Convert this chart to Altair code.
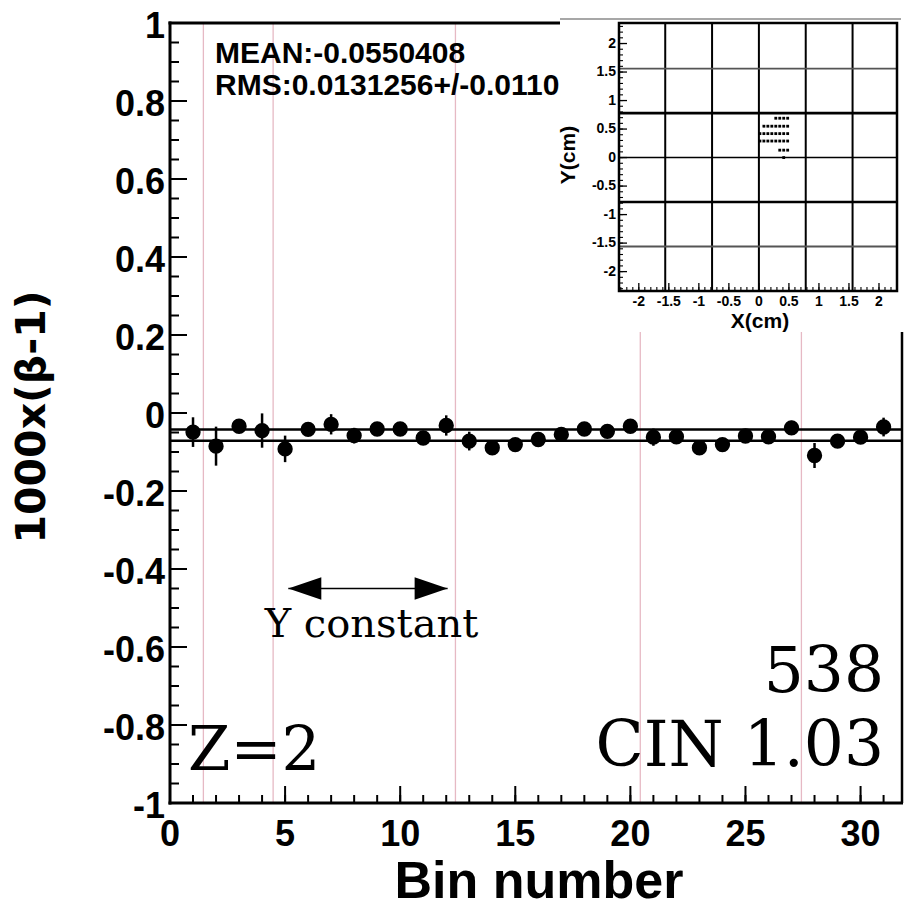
import altair as alt
import pandas as pd

# ---------------- main plot data ----------------
bins = list(range(1, 32))
beta_dev = [-0.049, -0.085, -0.034, -0.045, -0.092, -0.042, -0.029, -0.058, -0.041, -0.041,
            -0.064, -0.032, -0.072, -0.089, -0.081, -0.068, -0.055, -0.041, -0.047, -0.034,
            -0.062, -0.061, -0.089, -0.081, -0.059, -0.061, -0.038, -0.109, -0.072, -0.062, -0.036]
beta_err = [0.038, 0.050, 0.015, 0.044, 0.034, 0.015, 0.026, 0.020, 0.015, 0.015,
            0.018, 0.026, 0.024, 0.015, 0.015, 0.015, 0.018, 0.015, 0.015, 0.015,
            0.022, 0.015, 0.015, 0.015, 0.018, 0.018, 0.018, 0.032, 0.015, 0.015, 0.024]
band_lines = [-0.042, -0.071]
boundaries = [1.45, 4.48, 12.4, 20.43, 27.43]
arrow_x = [5.14, 12.06]
arrow_y = [-0.45, -0.45]

x_major = [0, 5, 10, 15, 20, 25, 30]
x_labels = ["0", "5", "10", "15", "20", "25", "30"]
x_minor = list(range(0, 32))
y_major = [-1, -0.8, -0.6, -0.4, -0.2, 0, 0.2, 0.4, 0.6, 0.8, 1]
y_labels = ["-1", "-0.8", "-0.6", "-0.4", "-0.2", "0", "0.2", "0.4", "0.6", "0.8", "1"]
y_minor = [round(-1 + 0.05 * i, 2) for i in range(41)]

# ---------------- inset data ----------------
spot_x = [0.281, 0.347, 0.413, 0.479,
          0.083, 0.149, 0.215, 0.281, 0.347, 0.413, 0.479,
          0.017, 0.083, 0.149, 0.215, 0.281, 0.347, 0.413, 0.479,
          0.017, 0.083, 0.149, 0.215, 0.281, 0.347, 0.413, 0.479,
          0.347, 0.413, 0.479,
          0.413]
spot_y = [0.69, 0.69, 0.69, 0.69,
          0.55, 0.55, 0.55, 0.55, 0.55, 0.55, 0.55,
          0.42, 0.42, 0.42, 0.42, 0.42, 0.42, 0.42, 0.42,
          0.29, 0.29, 0.29, 0.29, 0.29, 0.29, 0.29, 0.29,
          0.13, 0.13, 0.13,
          0.0]
inset_major = [-2, -1.5, -1, -0.5, 0, 0.5, 1, 1.5, 2]
inset_labels = ["-2", "-1.5", "-1", "-0.5", "0", "0.5", "1", "1.5", "2"]
inset_minor = [round(-2.3 + 0.1 * i, 1) for i in range(47)]
grid_v = [-1.56, -0.78, 0, 0.78, 1.56]
grid_h_thick = [-0.78, 0.78]
grid_h_zero = [0]
grid_h_gray = [-1.56, 1.56]

# ---------------- layout constants (pixels, plot coords) ----------------
W, H = 732, 780
SANS = "Liberation Sans"
SERIF = "DejaVu Serif"

pts = pd.DataFrame({"x": bins, "y": beta_dev,
                    "lo": [v - e for v, e in zip(beta_dev, beta_err)],
                    "hi": [v + e for v, e in zip(beta_dev, beta_err)]})

xs = alt.Scale(domain=[0, 31.8], nice=False, zero=False)
ys = alt.Scale(domain=[-1, 1], nice=False, zero=False)


def X(f="x"):
    return alt.X(f"{f}:Q", scale=xs, axis=None)


def Y(f="y"):
    return alt.Y(f"{f}:Q", scale=ys, axis=None)


pink = alt.Chart(pd.DataFrame({"x": boundaries})).mark_rule(
    color="#e6b9c4", strokeWidth=1.3).encode(x=X(), y=alt.value(0), y2=alt.value(H))

hlines = alt.Chart(pd.DataFrame({"y": band_lines})).mark_rule(
    color="black", strokeWidth=2.5).encode(y=Y(), x=alt.value(0), x2=alt.value(W))

errs = alt.Chart(pts).mark_rule(color="black", strokeWidth=2.5).encode(
    x=X(), y=Y("lo"), y2="hi:Q")

points = alt.Chart(pts).mark_circle(color="black", opacity=1, size=235).encode(x=X(), y=Y())

# axes: domain lines, inward ticks and labels
y_domain = alt.Chart().mark_rule(color="black", strokeWidth=3).encode(
    x=alt.value(0), y=alt.value(-1.5), y2=alt.value(H + 1.5))
x_domain = alt.Chart().mark_rule(color="black", strokeWidth=3).encode(
    y=alt.value(H), x=alt.value(-1.5), x2=alt.value(W + 1))
ytick_major = alt.Chart(pd.DataFrame({"y": y_major})).mark_rule(color="black", strokeWidth=2).encode(
    y=Y(), x=alt.value(0), x2=alt.value(17))
ytick_minor = alt.Chart(pd.DataFrame({"y": y_minor})).mark_rule(color="black", strokeWidth=2).encode(
    y=Y(), x=alt.value(0), x2=alt.value(9))
xtick_major = alt.Chart(pd.DataFrame({"x": x_major})).mark_rule(color="black", strokeWidth=2).encode(
    x=X(), y=alt.value(H - 17), y2=alt.value(H))
xtick_minor = alt.Chart(pd.DataFrame({"x": x_minor})).mark_rule(color="black", strokeWidth=2).encode(
    x=X(), y=alt.value(H - 8), y2=alt.value(H))
ylab = alt.Chart(pd.DataFrame({"y": y_major, "lab": y_labels})).mark_text(
    font=SANS, fontWeight="bold", fontSize=36, align="right", baseline="middle", dy=4, color="black"
).encode(y=Y(), x=alt.value(-5), text="lab:N")
xlab = alt.Chart(pd.DataFrame({"x": x_major, "lab": x_labels})).mark_text(
    font=SANS, fontWeight="bold", fontSize=36, align="center", baseline="top", color="black"
).encode(x=X(), y=alt.value(H + 14.5), text="lab:N")

frame_top = alt.Chart().mark_rule(color="black", strokeWidth=3).encode(
    x=alt.value(-1.5), x2=alt.value(W), y=alt.value(0))
frame_right = alt.Chart().mark_rule(color="black", strokeWidth=2.5).encode(
    x=alt.value(W), y=alt.value(0), y2=alt.value(H))

arrow_df = pd.DataFrame({"x": arrow_x, "y": arrow_y})
arrow_line = alt.Chart(arrow_df).mark_line(color="black", strokeWidth=1.5).encode(x=X(), y=Y())
head_l = alt.Chart(arrow_df.iloc[[0]]).mark_point(
    shape="M0,0L2,-0.68L2,0.68Z", filled=True, color="black", opacity=1, size=1089
).encode(x=X(), y=Y())
head_r = alt.Chart(arrow_df.iloc[[1]]).mark_point(
    shape="M0,0L-2,-0.68L-2,0.68Z", filled=True, color="black", opacity=1, size=1089
).encode(x=X(), y=Y())


def label(text, px, py, size, font=SANS, weight="bold", align="left", angle=0, baseline="alphabetic"):
    return alt.Chart().mark_text(
        text=text, font=font, fontWeight=weight, fontSize=size, align=align,
        baseline=baseline, angle=angle, color="black"
    ).encode(x=alt.value(px), y=alt.value(py))


t_mean = label("MEAN:-0.0550408", 45, 40, 30)
t_rms = label("RMS:0.0131256+/-0.0110", 45, 72, 30)
t_yconst = label("Y constant", 201.5, 614, 40, font=SERIF, weight="normal", align="center")
t_538 = label("538", 714, 669, 63, font=SERIF, weight="normal", align="right")
t_cin = label("CIN 1.03", 714, 743, 63, font=SERIF, weight="normal", align="right")
t_z = label("Z=2", 18, 747, 61, font=SERIF, weight="normal")
t_xtitle = label("Bin number", 369, 875, 52, align="center")
t_ytitle = label("1000x(β-1)", -137, 394, 41, font="DejaVu Sans", align="center",
                 angle=270, baseline="middle")

main = alt.layer(pink, hlines, errs, points, ytick_major, ytick_minor, xtick_major,
                 xtick_minor, y_domain, x_domain, ylab, xlab, frame_top, frame_right,
                 arrow_line, head_l, head_r,
                 t_mean, t_rms, t_yconst, t_538, t_cin, t_z, t_xtitle, t_ytitle)

# ---------------- inset ----------------
IX0, IX1, IY0, IY1 = 449, 727, 0, 268
ixs = alt.Scale(domain=[-2.33, 2.3], range=[IX0, IX1], nice=False, zero=False)
iys = alt.Scale(domain=[-2.34, 2.36], range=[IY1, IY0], nice=False, zero=False)


def IXc(f="ix"):
    return alt.X(f"{f}:Q", scale=ixs, axis=None)


def IYc(f="iy"):
    return alt.Y(f"{f}:Q", scale=iys, axis=None)


bg = alt.Chart().mark_rect(color="white", opacity=1).encode(
    x=alt.value(390), x2=alt.value(734), y=alt.value(-8), y2=alt.value(309))
top_gray = alt.Chart().mark_rule(color="#8a8a8a", strokeWidth=1.5).encode(
    x=alt.value(390), x2=alt.value(731), y=alt.value(-4))

gv = alt.Chart(pd.DataFrame({"ix": grid_v})).mark_rule(color="black", strokeWidth=2).encode(
    x=IXc(), y=alt.value(IY0), y2=alt.value(IY1))
gh_thick = alt.Chart(pd.DataFrame({"iy": grid_h_thick})).mark_rule(color="black", strokeWidth=2.6).encode(
    y=IYc(), x=alt.value(IX0), x2=alt.value(IX1))
gh_zero = alt.Chart(pd.DataFrame({"iy": grid_h_zero})).mark_rule(color="black", strokeWidth=1.6).encode(
    y=IYc(), x=alt.value(IX0), x2=alt.value(IX1))
gh_gray = alt.Chart(pd.DataFrame({"iy": grid_h_gray})).mark_rule(color="#555555", strokeWidth=1.8).encode(
    y=IYc(), x=alt.value(IX0), x2=alt.value(IX1))

iframe = alt.Chart().mark_rect(fill=None, stroke="black", strokeWidth=2.5).encode(
    x=alt.value(IX0), x2=alt.value(IX1), y=alt.value(IY0), y2=alt.value(IY1))

ibx_major = alt.Chart(pd.DataFrame({"ix": inset_major})).mark_rule(color="black", strokeWidth=1.3).encode(
    x=IXc(), y=alt.value(IY1 - 8), y2=alt.value(IY1))
ibx_minor = alt.Chart(pd.DataFrame({"ix": inset_minor})).mark_rule(color="black", strokeWidth=1.1).encode(
    x=IXc(), y=alt.value(IY1 - 4), y2=alt.value(IY1))
ily_major = alt.Chart(pd.DataFrame({"iy": inset_major})).mark_rule(color="black", strokeWidth=1.3).encode(
    y=IYc(), x=alt.value(IX0), x2=alt.value(IX0 + 8))
ily_minor = alt.Chart(pd.DataFrame({"iy": inset_minor})).mark_rule(color="black", strokeWidth=1.1).encode(
    y=IYc(), x=alt.value(IX0), x2=alt.value(IX0 + 4))

dots = alt.Chart(pd.DataFrame({"ix": spot_x, "iy": spot_y})).mark_square(
    color="black", opacity=1, size=8).encode(x=IXc(), y=IYc())

ixlab = alt.Chart(pd.DataFrame({"ix": inset_major, "lab": inset_labels})).mark_text(
    font=SANS, fontWeight="bold", fontSize=14, baseline="top", align="center", color="black"
).encode(x=IXc(), y=alt.value(IY1 + 4), text="lab:N")
iylab = alt.Chart(pd.DataFrame({"iy": inset_major, "lab": inset_labels})).mark_text(
    font=SANS, fontWeight="bold", fontSize=14, baseline="middle", align="right", color="black"
).encode(y=IYc(), x=alt.value(IX0 - 3), text="lab:N")

t_ix = label("X(cm)", 590, 305, 21, align="center")
t_iy = label("Y(cm)", 399, 132, 21, align="center", angle=270, baseline="middle")

inset = alt.layer(bg, top_gray, gv, gh_gray, gh_zero, gh_thick, iframe, ibx_major, ibx_minor,
                  ily_major, ily_minor, dots, ixlab, iylab, t_ix, t_iy)

chart = alt.layer(main, inset).resolve_scale(x="independent", y="independent").properties(
    width=W, height=H,
    autosize=alt.AutoSizeParams(type="none"),
    padding={"left": 162, "top": 15, "right": 2, "bottom": 103},
    background="white",
).configure_view(stroke=None)

chart.save("out.html", embed_options={"renderer": "svg", "actions": False})
